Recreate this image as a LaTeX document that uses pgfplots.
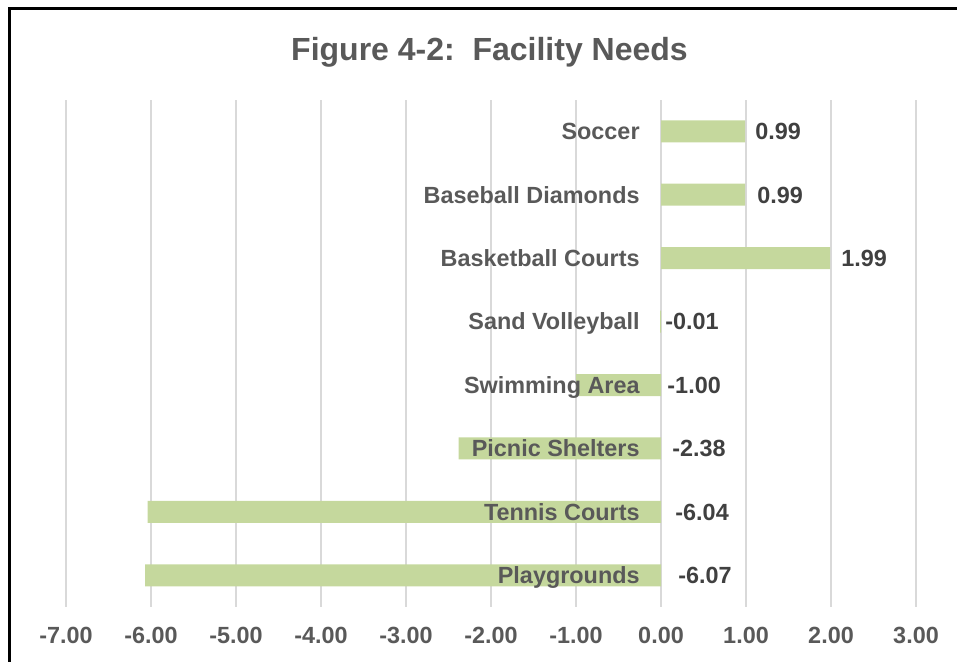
\documentclass[border=0pt]{standalone}
\usepackage{fontspec}
\setmainfont{Liberation Sans}
\usepackage{pgfplots}
\pgfplotsset{compat=1.18}
\definecolor{barg}{HTML}{C5D89D}
\definecolor{txtg}{HTML}{595959}
\definecolor{valg}{HTML}{404040}
\definecolor{gridg}{HTML}{D9D9D9}
\begin{document}
\begin{tikzpicture}
\path[use as bounding box] (0,0) rectangle (478.5pt,331pt);
\draw[line width=1.5pt, black] (4.5pt,-2pt) -- (4.5pt,326.5pt) -- (481pt,326.5pt);
\node[anchor=base, font=\fontsize{16}{19}\selectfont\bfseries, text=txtg, inner sep=0pt] at (244.75pt,300.5pt) {Figure 4-2:\ \ Facility Needs};
\begin{axis}[at={(33pt,27.5pt)}, anchor=south west, scale only axis,
  width=425pt, height=253.7pt,
  xmin=-7, xmax=3, ymin=-0.5, ymax=7.5,
  axis line style={draw=none}, major tick style={draw=none}, ytick=\empty,
  xtick={-7,-6,-5,-4,-3,-2,-1,0,1,2,3},
  xticklabels={-7.00,-6.00,-5.00,-4.00,-3.00,-2.00,-1.00,0.00,1.00,2.00,3.00},
  xmajorgrids, major grid style={gridg, line width=0.75pt},
  xticklabel style={font=\fontsize{11.7}{14}\selectfont\bfseries, text=txtg, anchor=base, inner sep=0pt, yshift=-18.5pt},
  clip=false]
\addplot[xbar, bar width=11pt, fill=barg, draw=none, bar shift=0pt]
  coordinates {(0.99,7) (0.99,6) (1.99,5) (-0.01,4) (-1.00,3) (-2.38,2) (-6.04,1) (-6.07,0)};
\addplot[draw=none, mark=none, point meta=explicit symbolic, nodes near coords,
  nodes near coords style={anchor=base east, inner sep=0pt, xshift=-10.5pt, yshift=-4.2pt,
  font=\fontsize{11.7}{14}\selectfont\bfseries, text=txtg}]
  coordinates {(0,7)[Soccer] (0,6)[Baseball Diamonds] (0,5)[Basketball Courts] (0,4)[Sand Volleyball]
   (0,3)[Swimming Area] (0,2)[Picnic Shelters] (0,1)[Tennis Courts] (0,0)[Playgrounds]};
\addplot[draw=none, mark=none, point meta=explicit symbolic, nodes near coords,
  nodes near coords style={anchor=base west, inner sep=0pt, yshift=-4.2pt,
  font=\fontsize{11.7}{14}\selectfont\bfseries, text=valg}]
  coordinates {(1.106,7)[0.99] (1.129,6)[0.99] (2.118,5)[1.99] (0.047,4)[-0.01]
   (0.071,3)[-1.00] (0.129,2)[-2.38] (0.165,1)[-6.04] (0.2,0)[-6.07]};
\end{axis}
\end{tikzpicture}
\end{document}
